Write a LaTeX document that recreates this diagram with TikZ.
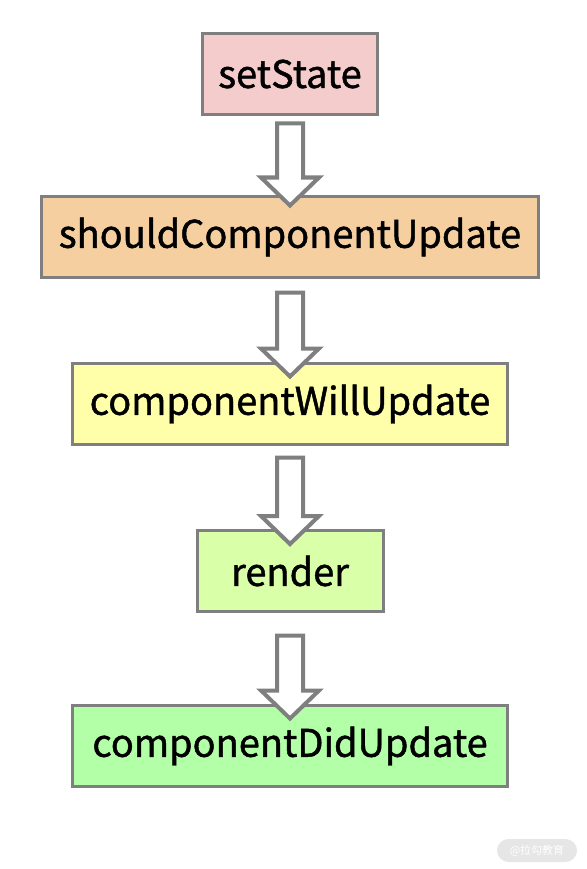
\documentclass[tikz,border=0pt]{standalone}
\usepackage{fontspec}
\setmainfont{Noto Sans CJK SC}
\newfontfamily\labelfont{Noto Sans CJK SC}[FakeBold=1.2]
\usepackage{tikz}
\usetikzlibrary{calc}

\definecolor{edgegray}{HTML}{7F7F7F}
\definecolor{setfill}{HTML}{F4CCCC}
\definecolor{shouldfill}{HTML}{F6CFA1}
\definecolor{willfill}{HTML}{FFFFAA}
\definecolor{renderfill}{HTML}{D9FFA8}
\definecolor{didfill}{HTML}{B3FFA8}
\definecolor{wmgray}{HTML}{E6E6E6}

% hollow block arrow between two boxes: from, to, gap below from, depth of tip into to
\newcommand{\flowarrow}[4]{%
  \path ($(#1.south)+(0,-#3)$) coordinate (top) ($(#2.north)+(0,-#4)$) coordinate (tip);
  \draw[flow] (tip) -- ++(-29,28) -- ++(16,0) -- ($(top)+(-13,0)$) -- ++(26,0)
    -- ($(tip)+(13,28)$) -- ++(16,0) -- cycle;
}

\begin{document}
\begin{tikzpicture}[x=1pt, y=1pt,
    box/.style={draw=edgegray, line width=3pt, minimum height=81pt, inner sep=0pt,
      font=\labelfont\fontsize{38}{44}\selectfont},
    flow/.style={draw=edgegray, fill=white, line width=4pt, line join=miter}]
  \useasboundingbox (0,0) rectangle (586,-869);
  \node[box, fill=setfill, minimum width=175pt] (set) at (290,-74) {setState};
  \node[box, fill=shouldfill, minimum width=497pt] (should) at (290,-237) {shouldComponentUpdate};
  \node[box, fill=willfill, minimum width=435pt] (will) at (290,-404) {componentWillUpdate};
  \node[box, fill=renderfill, minimum width=186pt] (render) at (290,-571) {render};
  \node[box, fill=didfill, minimum width=435pt] (did) at (290,-746) {componentDidUpdate};
  \flowarrow{set}{should}{7.5}{10.5}
  \flowarrow{should}{will}{13.5}{14.5}
  \flowarrow{will}{render}{11.5}{15}
  \flowarrow{render}{did}{22.5}{14.5}
  \node[fill=wmgray, rounded corners=11.5pt, minimum width=80pt, minimum height=23pt,
    inner sep=0pt, text=white, font=\fontsize{11}{13}\selectfont] (wm) at (537,-850.5) {@拉勾教育};
\end{tikzpicture}
\end{document}
